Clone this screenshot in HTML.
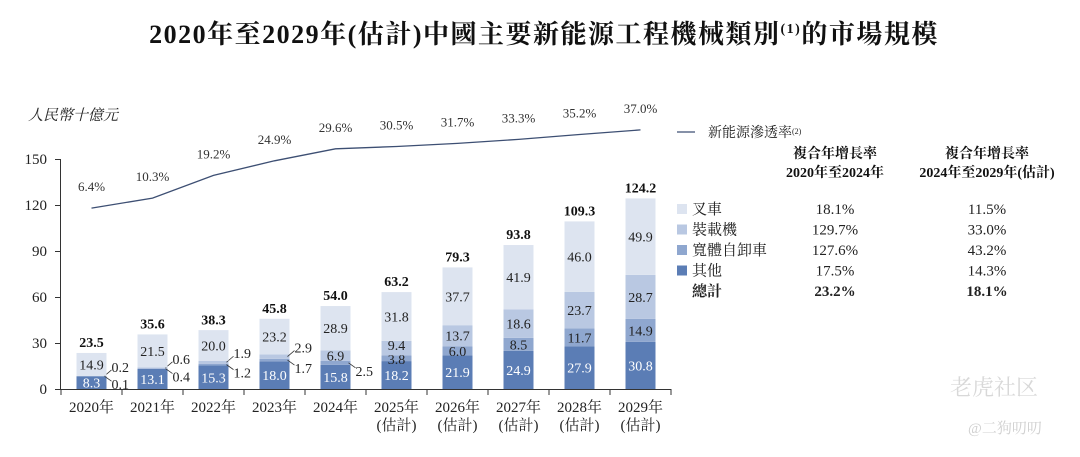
<!DOCTYPE html>
<html><head><meta charset="utf-8">
<style>
html,body{margin:0;padding:0;background:#fff;}
body{width:1080px;height:452px;overflow:hidden;font-family:"Liberation Serif","Noto Serif CJK SC",serif;}
svg text{font-family:"Liberation Serif","Noto Serif CJK SC",serif;}
</style></head>
<body>
<svg id="chart" width="1080" height="452" viewBox="0 0 1080 452" xmlns="http://www.w3.org/2000/svg">
<text x="544" y="43" text-anchor="middle" font-size="26" font-weight="bold" fill="#111" letter-spacing="1.5">2020年至2029年(估計)中國主要新能源工程機械類別<tspan font-size="14" dy="-10">(1)</tspan><tspan dy="10">的市場規模</tspan></text>
<text x="28" y="120" font-size="15" font-style="italic" fill="#222">人民幣十億元</text>
<g id="axes"></g>
<g id="bars"></g>
<g id="line"></g>
<g>
<line x1="677" y1="132" x2="695" y2="132" stroke="#3d4f73" stroke-width="1.2"/>
<text x="708" y="137" font-size="14" fill="#222">新能源滲透率<tspan font-size="8" dy="-3">(2)</tspan></text>
<text x="835" y="158" text-anchor="middle" font-size="14" font-weight="bold" fill="#111">複合年增長率</text>
<text x="835" y="177" text-anchor="middle" font-size="14" font-weight="bold" fill="#111">2020年至2024年</text>
<text x="987" y="158" text-anchor="middle" font-size="14" font-weight="bold" fill="#111">複合年增長率</text>
<text x="987" y="177" text-anchor="middle" font-size="14" font-weight="bold" fill="#111">2024年至2029年(估計)</text>
<g id="legendrows"></g>
</g>
<text x="950" y="395" font-size="22" fill="#d8d8d8" font-family="Liberation Sans, Noto Sans CJK SC, sans-serif">老虎社区</text>
<text x="968" y="433" font-size="15" fill="#d0d0d0" font-family="Liberation Sans, Noto Sans CJK SC, sans-serif">@二狗叨叨</text>
</svg>
<script>
const years = ["2020年","2021年","2022年","2023年","2024年","2025年","2026年","2027年","2028年","2029年"];
const estimated = [false,false,false,false,false,true,true,true,true,true];
const others = [8.3,13.1,15.3,18.0,15.8,18.2,21.9,24.9,27.9,30.8];
const wideBody = [0.1,0.4,1.2,1.7,2.5,3.8,6.0,8.5,11.7,14.9];
const loader = [0.2,0.6,1.9,2.9,6.9,9.4,13.7,18.6,23.7,28.7];
const forklift = [14.9,21.5,20.0,23.2,28.9,31.8,37.7,41.9,46.0,49.9];
const totals = [23.5,35.6,38.3,45.8,54.0,63.2,79.3,93.8,109.3,124.2];
const penetration = [6.4,10.3,19.2,24.9,29.6,30.5,31.7,33.3,35.2,37.0];
const yTicks = [0,30,60,90,120,150];
const legendNames = ["叉車","裝載機","寬體自卸車","其他","總計"];
const cagr1 = ["18.1%","129.7%","127.6%","17.5%","23.2%"];
const cagr2 = ["11.5%","33.0%","43.2%","14.3%","18.1%"];

const NS="http://www.w3.org/2000/svg";
const y0=389, pxPer=230/150;
const yS=v=>y0-v*pxPer;
const xC=i=>91.5+61*i;
const lineVal=r=>107.3+1.667*r;
const colors=["#5b7db5","#8fa7cf","#b9c8e2","#dde4f0"];
function mk(tag,attrs,parent,text){const e=document.createElementNS(NS,tag);for(const k in attrs)e.setAttribute(k,attrs[k]);if(text!==undefined)e.textContent=text;parent.appendChild(e);return e;}
const axes=document.getElementById('axes'),bars=document.getElementById('bars'),lg=document.getElementById('line');

let e=mk('line',{x1:60.5,y1:yS(150),x2:60.5,y2:y0,stroke:'#333','stroke-width':1},axes);


e=mk('line',{x1:60,y1:y0+0.5,x2:671,y2:y0+0.5,stroke:'#333','stroke-width':1},axes);


yTicks.forEach(t=>{
  let tk=mk('line',{x1:55,y1:yS(t)+0.5,x2:60,y2:yS(t)+0.5,stroke:'#333'},axes);
  
  
  let l=mk('text',{x:47,y:yS(t)+5,'text-anchor':'end','font-size':15,fill:'#222'},axes,String(t));
  
  
});
for(let i=0;i<=years.length;i++){
  let tk=mk('line',{x1:61+61*i,y1:y0,x2:61+61*i,y2:y0+6,stroke:'#333'},axes);
  
  
}
years.forEach((yr,i)=>{
  let l=mk('text',{x:xC(i),y:412,'text-anchor':'middle','font-size':15,fill:'#222'},axes,yr);
  
  
  if(estimated[i]){
    let l2=mk('text',{x:xC(i),y:430,'text-anchor':'middle','font-size':15,fill:'#222'},axes,'(估計)');
    
    
  }
});
const series=[others,wideBody,loader,forklift];
const segNames=['bar-others','bar-wide-body','bar-loader','bar-forklift'];
years.forEach((yr,i)=>{
  let base=0;const bw=30,x=xC(i)-bw/2;
  series.forEach((s,k)=>{
    const v=s[i];
    let r=mk('rect',{x:x,y:yS(base+v),width:bw,height:v*pxPer,fill:colors[k]},bars);
    
    
    const mid=yS(base+v/2);
    const small=i<5&&(k===1||k===2)&&v<3;
    if(!small){
      let ty=mid+5;
      if(i===5&&k===1)ty=mid+6;
      if(i===5&&k===2)ty=mid+2;
      if(i===4&&k===1){
        let t=mk('text',{x:x+bw+6,y:mid+5,'font-size':14,fill:'#222'},bars,v.toFixed(1));
        
        
      } else {
        let t=mk('text',{x:xC(i),y:ty,'text-anchor':'middle','font-size':14,fill:k===0?'#fff':'#222'},bars,v.toFixed(1));
        
        
      }
    } else {
      const up=k===2;
      const lx=x+bw-2, ly=mid, tx=lx+7, tyy=up?ly-6:ly+5;
      let ln=mk('line',{x1:lx,y1:ly,x2:tx,y2:tyy,stroke:'#333','stroke-width':0.8},bars);
      
      
      let t=mk('text',{x:tx,y:up?tyy+2:tyy+8,'font-size':14,fill:'#222'},bars,v.toFixed(1));
      
      
    }
    base+=v;
  });
  let tt=mk('text',{x:xC(i),y:yS(totals[i])-6,'text-anchor':'middle','font-size':14,'font-weight':'bold',fill:'#111'},bars,totals[i].toFixed(1));
  
  
});
let pts=penetration.map((r,i)=>xC(i)+','+yS(lineVal(r)).toFixed(1)).join(' ');
let pl=mk('polyline',{points:pts,fill:'none',stroke:'#3d4f73','stroke-width':1.3},lg);


penetration.forEach((r,i)=>{
  let t=mk('text',{x:xC(i),y:yS(lineVal(r))-17,'text-anchor':'middle','font-size':13,fill:'#333'},lg,r.toFixed(1)+'%');
  
  
});
const lr=document.getElementById('legendrows');
const swCols=[colors[3],colors[2],colors[1],colors[0]];
legendNames.forEach((n,i)=>{
  const y=214+20.5*i;
  if(i<4){
    let s=mk('rect',{x:677,y:y-10,width:10,height:10,fill:swCols[i]},lr);
    
    
  }
  let t=mk('text',{x:692,y:y,'font-size':15,fill:'#222','font-weight':i===4?'bold':'normal'},lr,n);
  
  
  let c1=mk('text',{x:835,y:y,'text-anchor':'middle','font-size':15,fill:'#222','font-weight':i===4?'bold':'normal'},lr,cagr1[i]);
  
  
  let c2=mk('text',{x:987,y:y,'text-anchor':'middle','font-size':15,fill:'#222','font-weight':i===4?'bold':'normal'},lr,cagr2[i]);
  
  
});
</script>
</body></html>
